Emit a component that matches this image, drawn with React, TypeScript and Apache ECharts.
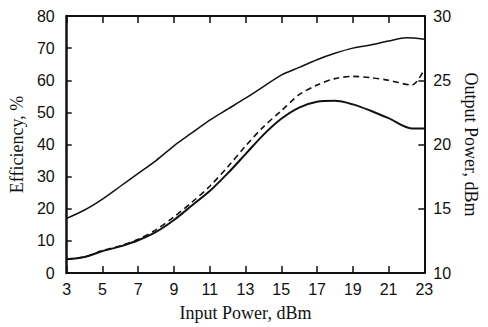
import React, { useEffect, useRef } from "react";
import * as echarts from "echarts";

const inputPower = [3, 4, 5, 6, 7, 8, 9, 10, 11, 12, 13, 14, 15, 16, 17, 18, 19, 20, 21, 22, 23];
// Output power, dBm (right axis)
const outputPower = [14.25, 14.9, 15.75, 16.75, 17.75, 18.75, 19.9, 20.9, 21.9, 22.75, 23.6, 24.5, 25.4, 26.0, 26.6, 27.1, 27.5, 27.75, 28.05, 28.3, 28.2];
// Efficiency, % (dashed) — x values include the dip point
const dashedX = [3, 4, 5, 6, 7, 8, 9, 10, 11, 12, 13, 14, 15, 16, 17, 18, 19, 20, 21, 22.3, 23];
const dashedEff = [4.3, 5.0, 7.0, 8.5, 10.5, 13.5, 17.5, 22, 27, 33, 39.5, 45.5, 50.5, 55.5, 58.5, 60.5, 61.2, 60.8, 60.0, 58.5, 63.5];
// Efficiency, % (lower solid)
const solidX = [3, 4, 5, 6, 7, 8, 9, 10, 11, 12, 13, 14, 15, 16, 17, 18, 19, 20, 21, 22.3, 23];
const solidEff = [4.3, 5.0, 6.8, 8.3, 10.2, 12.8, 16.5, 21, 25.5, 31, 37, 43, 48, 51.5, 53.3, 53.6, 52.5, 50.5, 48.2, 45.0, 45.0];

export default function App() {
  const ref = useRef<HTMLDivElement>(null);
  useEffect(() => {
    if (!ref.current) return;
    const chart = echarts.init(ref.current, null, { renderer: "svg" });
    const labelFont = { fontFamily: "Liberation Sans", fontSize: 16, color: "#111" };
    const nameFont = { fontFamily: "Liberation Serif", fontSize: 18, color: "#111" };
    const axisLine = { show: true, lineStyle: { color: "#111", width: 2 } };
    chart.setOption({
      animation: false,
      backgroundColor: "#fff",
      grid: { left: 66, right: 52, top: 16, bottom: 49 },
      xAxis: [
        {
          type: "value",
          min: 3,
          max: 23,
          interval: 2,
          position: "bottom",
          name: "Input Power, dBm",
          nameLocation: "middle",
          nameGap: 31,
          nameTextStyle: nameFont,
          axisLine,
          axisTick: { show: true, inside: true, length: 7, lineStyle: { color: "#111", width: 1.5 } },
          axisLabel: { ...labelFont, margin: 8 },
          splitLine: { show: false },
        },
        {
          type: "value",
          min: 3,
          max: 23,
          interval: 2,
          position: "top",
          axisLine,
          axisTick: { show: true, inside: true, length: 7, lineStyle: { color: "#111", width: 1.5 } },
          axisLabel: { show: false },
          splitLine: { show: false },
        },
      ],
      yAxis: [
        {
          type: "value",
          min: 0,
          max: 80,
          interval: 10,
          position: "left",
          name: "Efficiency, %",
          nameLocation: "middle",
          nameGap: 40,
          nameTextStyle: nameFont,
          axisLine: { show: true, lineStyle: { color: "#111", width: 2.5 } },
          axisTick: { show: true, inside: true, length: 5, lineStyle: { color: "#111", width: 1.5 } },
          axisLabel: { ...labelFont, margin: 12 },
          splitLine: { show: false },
        },
        {
          type: "value",
          min: 10,
          max: 30,
          interval: 5,
          position: "right",
          name: "Output Power, dBm",
          nameLocation: "middle",
          nameRotate: -90,
          nameGap: 33,
          nameTextStyle: nameFont,
          axisLine,
          axisTick: { show: true, inside: true, length: 6, lineStyle: { color: "#111", width: 1.5 } },
          axisLabel: { ...labelFont, margin: 9 },
          splitLine: { show: false },
        },
      ],
      series: [
        {
          type: "line",
          yAxisIndex: 1,
          data: inputPower.map((x, i) => [x, outputPower[i]]),
          smooth: 0.3,
          showSymbol: false,
          lineStyle: { color: "#111", width: 1.5 },
        },
        {
          type: "line",
          yAxisIndex: 0,
          data: dashedX.map((x, i) => [x, dashedEff[i]]),
          smooth: 0.3,
          showSymbol: false,
          lineStyle: { color: "#111", width: 1.6, type: [6, 4] },
        },
        {
          type: "line",
          yAxisIndex: 0,
          data: solidX.map((x, i) => [x, solidEff[i]]),
          smooth: 0.3,
          showSymbol: false,
          lineStyle: { color: "#111", width: 2 },
        },
      ],
    });
    return () => chart.dispose();
  }, []);
  return <div ref={ref} style={{ width: 488, height: 327, position: "absolute", left: 0, top: 0 }} />;
}
